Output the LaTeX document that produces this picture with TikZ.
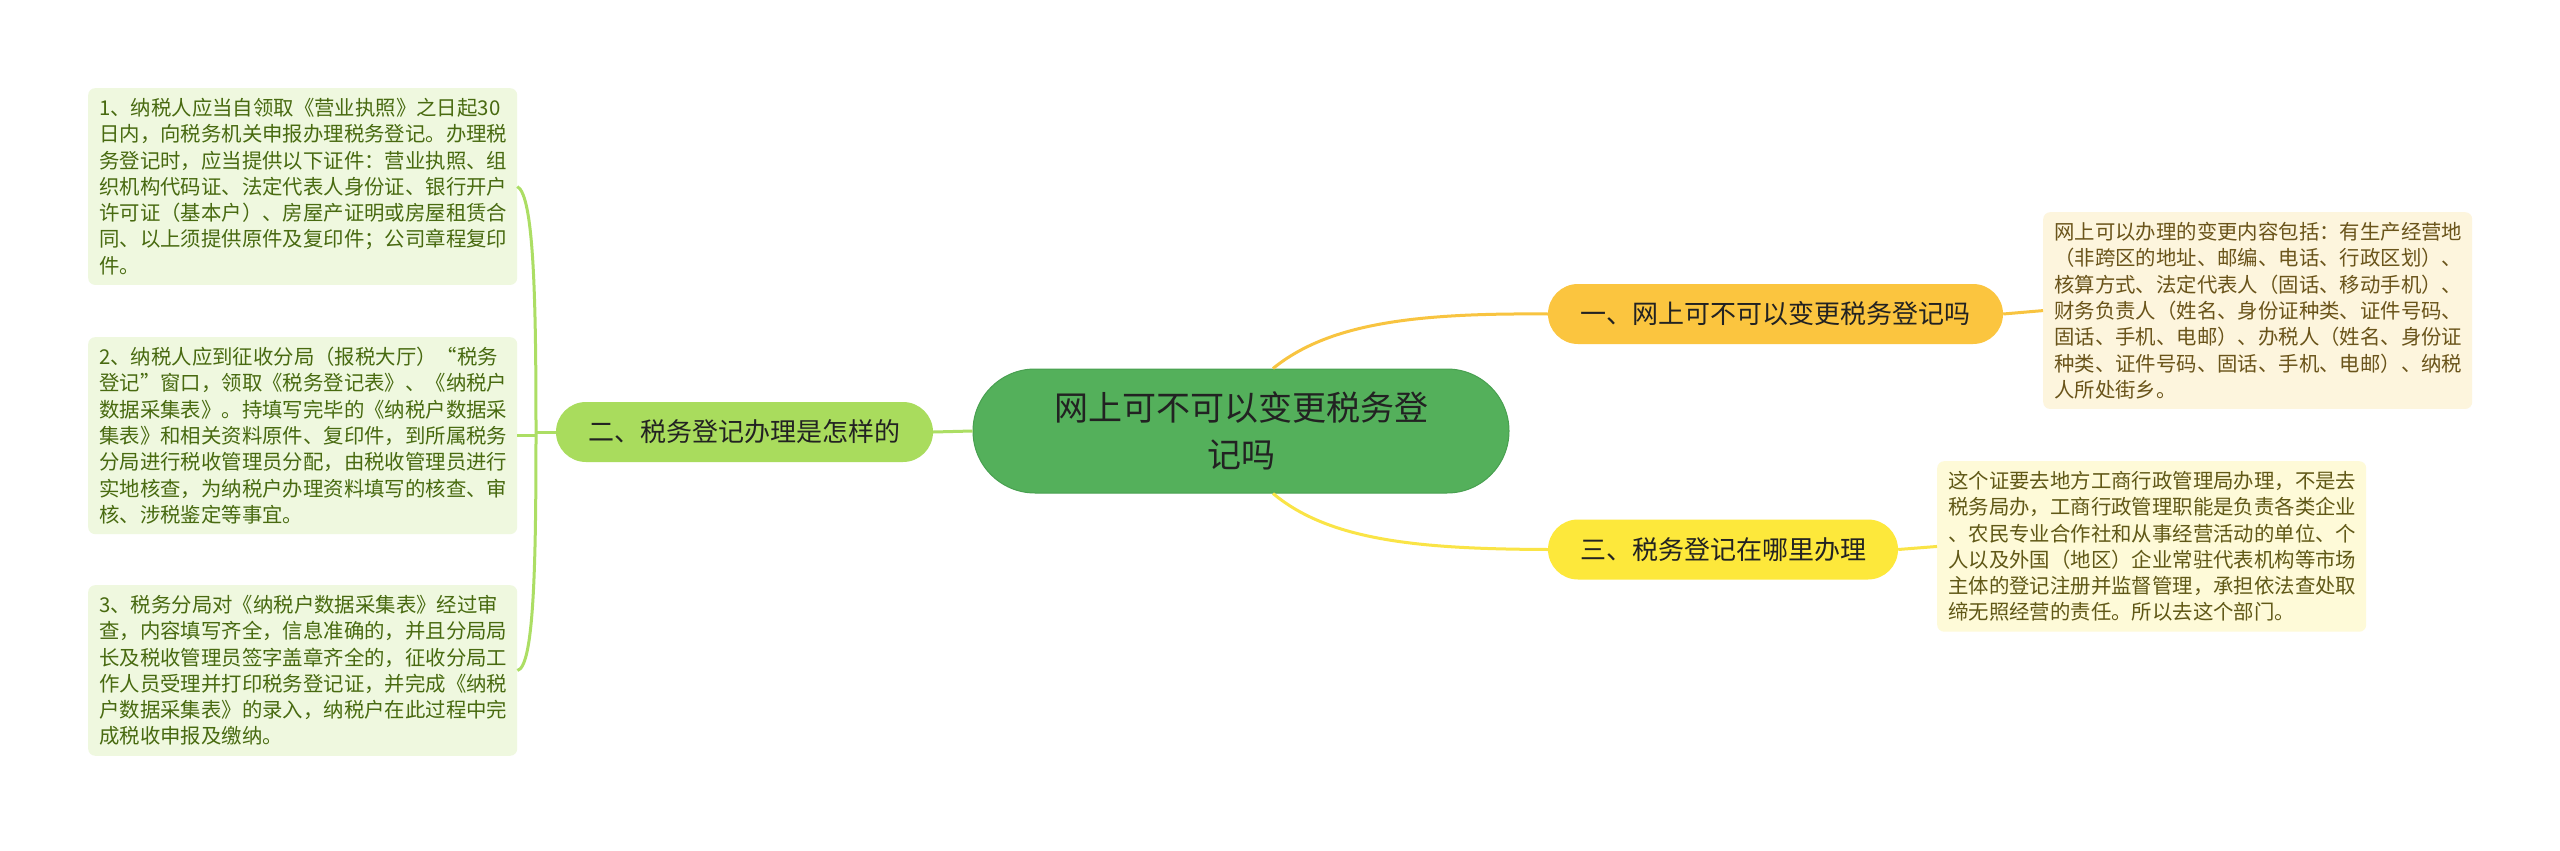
\documentclass[tikz,border=0pt]{standalone}
\usepackage{fontspec}
\setmainfont{Noto Sans CJK SC}
\definecolor{cfill}{RGB}{84,176,91}
\definecolor{cdraw}{RGB}{72,160,80}
\definecolor{ctext}{RGB}{34,34,34}
\definecolor{gfill}{RGB}{169,220,93}
\definecolor{gline}{RGB}{172,222,100}
\definecolor{ofill}{RGB}{251,197,63}
\definecolor{oline}{RGB}{248,196,64}
\definecolor{yfill}{RGB}{253,232,59}
\definecolor{yline}{RGB}{250,228,70}
\definecolor{lgfill}{RGB}{239,248,223}
\definecolor{lgtext}{RGB}{72,106,16}
\definecolor{lofill}{RGB}{253,245,221}
\definecolor{lotext}{RGB}{106,84,26}
\definecolor{lyfill}{RGB}{254,250,216}
\definecolor{lytext}{RGB}{96,88,22}
\tikzset{
  centralbox/.style={fill=cfill,draw=cdraw,line width=1pt,rounded corners=62,minimum width=536,minimum height=124,align=center,text=ctext,font=\fontsize{34}{47}\selectfont,inner sep=0pt},
  branchbox/.style={rounded corners=30,minimum height=60,inner sep=0pt,text=ctext,font=\fontsize{26}{30}\selectfont},
  leafbox/.style={rounded corners=7,anchor=north west,inner xsep=11,inner ysep=10,text width=407,align=left,font=\fontsize{20.4}{26.3}\selectfont},
  conn/.style={line width=3pt},
}
\begin{document}
\begin{tikzpicture}[x=1pt,y=-1pt]
\useasboundingbox[fill=white] (0,0) rectangle (2560,851);
% central
\node[centralbox] (c) at (1241,431) {网上可不可以变更税务登\\记吗};
% branches
\node[branchbox,fill=ofill,minimum width=455] (b1) at (1775.5,314) {一、网上可不可以变更税务登记吗};
\node[branchbox,fill=gfill,minimum width=377] (b2) at (744.5,432) {二、税务登记办理是怎样的};
\node[branchbox,fill=yfill,minimum width=350] (b3) at (1723,549.5) {三、税务登记在哪里办理};
% leaves
\node[leafbox,fill=lofill,text=lotext] (r1) at (2043,212) {网上可以办理的变更内容包括：有生产经营地\\（非跨区的地址、邮编、电话、行政区划）、\\核算方式、法定代表人（固话、移动手机）、\\财务负责人（姓名、身份证种类、证件号码、\\固话、手机、电邮）、办税人（姓名、身份证\\种类、证件号码、固话、手机、电邮）、纳税\\人所处街乡。};
\node[leafbox,fill=lyfill,text=lytext] (r3) at (1937,461) {这个证要去地方工商行政管理局办理，不是去\\税务局办，工商行政管理职能是负责各类企业\\、农民专业合作社和从事经营活动的单位、个\\人以及外国（地区）企业常驻代表机构等市场\\主体的登记注册并监督管理，承担依法查处取\\缔无照经营的责任。所以去这个部门。};
\node[leafbox,fill=lgfill,text=lgtext] (l1) at (88,88) {1、纳税人应当自领取《营业执照》之日起30\\日内，向税务机关申报办理税务登记。办理税\\务登记时，应当提供以下证件：营业执照、组\\织机构代码证、法定代表人身份证、银行开户\\许可证（基本户）、房屋产证明或房屋租赁合\\同、以上须提供原件及复印件；公司章程复印\\件。};
\node[leafbox,fill=lgfill,text=lgtext] (l2) at (88,337) {2、纳税人应到征收分局（报税大厅）“税务\\登记”窗口，领取《税务登记表》、《纳税户\\数据采集表》。持填写完毕的《纳税户数据采\\集表》和相关资料原件、复印件，到所属税务\\分局进行税收管理员分配，由税收管理员进行\\实地核查，为纳税户办理资料填写的核查、审\\核、涉税鉴定等事宜。};
\node[leafbox,fill=lgfill,text=lgtext] (l3) at (88,585) {3、税务分局对《纳税户数据采集表》经过审\\查，内容填写齐全，信息准确的，并且分局局\\长及税收管理员签字盖章齐全的，征收分局工\\作人员受理并打印税务登记证，并完成《纳税\\户数据采集表》的录入，纳税户在此过程中完\\成税收申报及缴纳。};
% coordinates
\coordinate (c1) at ([xshift=32pt]c.north);
\coordinate (c3) at ([xshift=32pt]c.south);
\coordinate (j) at (536,432);
% connectors
\draw[conn,oline] (c1) .. controls (1330,322) and (1420,313) .. (b1.west);
\draw[conn,yline] (c3) .. controls (1330,541) and (1420,549) .. (b3.west);
\draw[conn,gline] (c.west) -- (b2.east);
\draw[conn,oline] (b1.east) -- (r1.west);
\draw[conn,yline] (b3.east) -- (r3.west);
\draw[conn,gline] (b2.west) -- (j);
\draw[conn,gline] (l1.east) .. controls (534,196) and (536,300) .. (j);
\draw[conn,gline] (j) .. controls (536,565) and (534,667) .. (l3.east);
\draw[conn,gline] (l2.east) -- (l2.east -| j);
\end{tikzpicture}
\end{document}
